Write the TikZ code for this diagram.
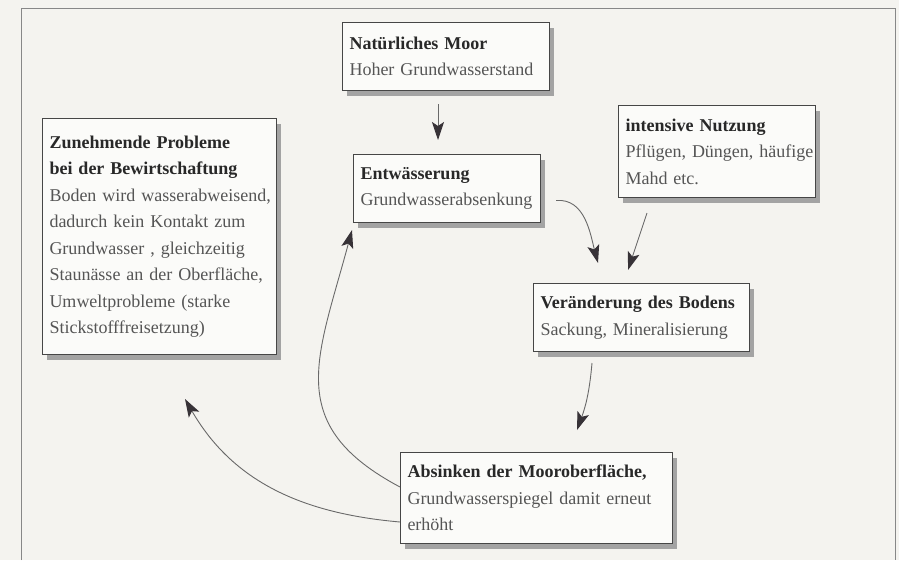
\documentclass[tikz,border=0pt]{standalone}
\usepackage{fontspec}
\setmainfont{Liberation Serif}
\usepackage{xcolor}
\usepackage{tikz}
\usetikzlibrary{shadows,arrows.meta}
\definecolor{PaperGray}{RGB}{244,243,239}
\definecolor{FrameGray}{RGB}{135,135,135}
\definecolor{BoxFill}{RGB}{251,251,249}
\definecolor{BoxLine}{RGB}{70,70,70}
\definecolor{ShadowGray}{RGB}{155,155,155}
\definecolor{TitleInk}{RGB}{40,40,40}
\definecolor{BodyInk}{RGB}{85,85,85}
\definecolor{ArrowGray}{RGB}{105,105,105}
\definecolor{ArrowHead}{RGB}{55,50,55}

\begin{document}
\begin{tikzpicture}[x=1pt,y=-1pt,
    box/.style={draw=BoxLine,fill=BoxFill,line width=1pt,anchor=north west,
        inner xsep=7pt,inner ysep=6pt,align=left,text=BodyInk,
        font=\fontsize{18}{26.5}\selectfont,
        drop shadow={shadow xshift=4pt,shadow yshift=-5pt,fill=ShadowGray,opacity=0.9}},
    flow/.style={-{Stealth[length=18pt,width=12pt,inset=4pt,color=ArrowHead]},
        draw=ArrowGray,line width=0.9pt}]
    % Paper and frame
    \useasboundingbox (0,0) rectangle (899,560);
    \fill[PaperGray] (0,0) rectangle (899,560);
    \draw[FrameGray,line width=1pt] (21,560) -- (21,8) -- (895,8) -- (895,560);

    % Boxes of the cycle
    \node[box,text width=193pt,minimum height=68pt] (moor) at (342,22)
        {{\color{TitleInk}\bfseries Natürliches Moor}\\Hoher Grundwasserstand};
    \node[box,text width=220pt,minimum height=236pt] (probleme) at (42,118)
        {{\color{TitleInk}\bfseries Zunehmende Probleme}\\
         {\color{TitleInk}\bfseries bei der Bewirtschaftung}\\
         \mbox{Boden wird wasserabweisend,}\\\mbox{dadurch kein Kontakt zum}\\
         \mbox{Grundwasser , gleichzeitig}\\\mbox{Staunässe an der Oberfläche,}\\
         \mbox{Umweltprobleme (starke}\\Stickstofffreisetzung)};
    \node[box,text width=173pt,minimum height=68pt] (entw) at (353,154)
        {{\color{TitleInk}\bfseries Entwässerung}\\Grundwasserabsenkung};
    \node[box,text width=183pt,minimum height=92pt] (nutzung) at (618,105)
        {{\color{TitleInk}\bfseries intensive Nutzung}\\\mbox{Pflügen, Düngen, häufige}\\Mahd etc.};
    \node[box,text width=202pt,minimum height=68pt] (boden) at (533,283)
        {{\color{TitleInk}\bfseries Veränderung des Bodens}\\\mbox{Sackung, Mineralisierung}};
    \node[box,text width=258pt,minimum height=91pt] (absinken) at (400,452)
        {{\color{TitleInk}\bfseries \mbox{Absinken der Mooroberfläche,}}\\
         \mbox{Grundwasserspiegel damit erneut}\\erhöht};

    % Connectors
    \draw[flow] ([xshift=-8pt,yshift=-13pt]moor.south) -- ([xshift=-9pt,yshift=14pt]entw.north);
    \draw[flow] ([xshift=15pt,yshift=-12pt]entw.east) to[out=5,in=105]
        ([xshift=65pt,yshift=20pt]boden.north west);
    \draw[flow] ([xshift=29pt,yshift=-15pt]nutzung.south west) --
        ([xshift=95pt,yshift=13pt]boden.north west);
    \draw[flow] ([xshift=59pt,yshift=-11pt]boden.south west) to[out=-95,in=70]
        ([xshift=177pt,yshift=22pt]absinken.north west);
    \draw[flow] ([yshift=11pt]absinken.west) to[out=152,in=255,looseness=1.3]
        ([xshift=-1pt,yshift=-7pt]entw.south west);
    \draw[flow] ([yshift=-24pt]absinken.west) to[out=175,in=-60]
        ([xshift=143pt,yshift=-44pt]probleme.south west);
\end{tikzpicture}
\end{document}
